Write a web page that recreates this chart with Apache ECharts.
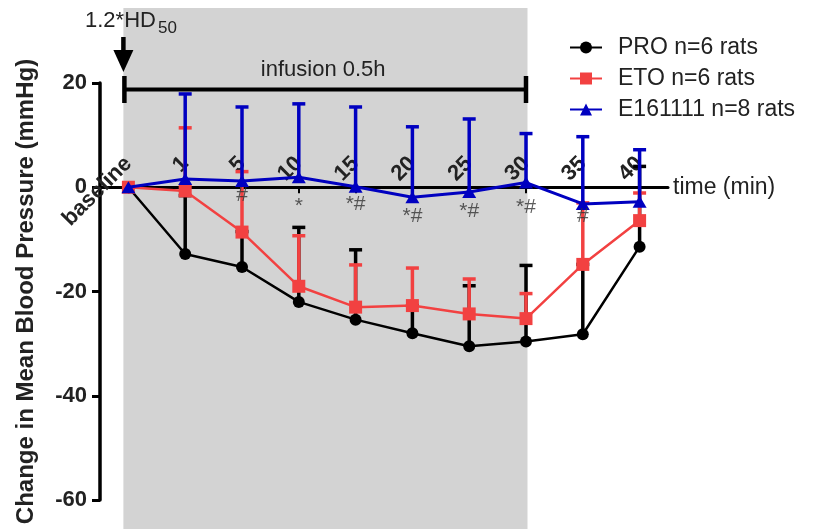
<!DOCTYPE html>
<html><head><meta charset="utf-8">
<script src="https://cdn.jsdelivr.net/npm/echarts@6/dist/echarts.min.js"></script>
<style>html,body{margin:0;padding:0;background:#fff}#c{width:816px;height:529px}</style>
</head><body><div id="c"></div>
<script>
// ---- data ----
const categories = ['baseline','1','5','10','15','20','25','30','35','40'];
const proMean = [0,-12.8,-15.3,-22.0,-25.4,-28.0,-30.5,-29.6,-28.2,-11.4];
const proErr  = [0, 11.2, 6.8, 14.3, 13.4, 5.3, 11.6, 14.6, 13.4, 15.4];
const etoMean = [0,-0.7,-8.6,-19.0,-23.0,-22.7,-24.3,-25.2,-14.8,-6.4];
const etoErr  = [0,12.1,11.6,9.7,8.1,7.2,6.7,4.8,11.8,5.3];
const eMean   = [0,1.6,1.2,1.9,0.1,-1.9,-0.9,0.9,-3.2,-2.8];
const eErr    = [0,16.3,14.2,14.1,15.3,13.5,14.0,9.4,12.9,10.0];
const yTicks  = [-60,-40,-20,0,20];
const sigCats = ['5','10','15','20','25','30','35'];
const sigY    = [-1.6,-3.7,-3.3,-5.5,-4.5,-3.9,-5.6];
const sigText = ['#','*','*#','*#','*#','*#','#'];
const seriesNames = ['PRO n=6 rats','ETO n=6 rats','E161111 n=8 rats'];
const infusionStart = 'baseline', infusionEnd = '30';

const FONT = 'Liberation Sans, Arial, Helvetica, sans-serif';
const BLACK = '#000000', RED = '#F24141', BLUE = '#0000C0';

function errSeries(name, means, errs, color, z) {
  return {
    type: 'custom', name: name, z: z, silent: true,
    data: means.map((m, i) => [i, m, m + errs[i]]),
    encode: { x: 0, y: [1, 2] },
    renderItem: function (params, api) {
      const x = api.value(0);
      const p0 = api.coord([x, api.value(1)]);
      const p1 = api.coord([x, api.value(2)]);
      if (Math.abs(p0[1] - p1[1]) < 0.5) return null;
      const hw = 6.5;
      return { type: 'group', children: [
        { type: 'line', shape: { x1: p0[0], y1: p0[1], x2: p1[0], y2: p1[1] }, style: { stroke: color, lineWidth: 3.5 } },
        { type: 'line', shape: { x1: p1[0] - hw, y1: p1[1], x2: p1[0] + hw, y2: p1[1] }, style: { stroke: color, lineWidth: 3.5 } }
      ]};
    }
  };
}
function lineSeries(name, means, color, symbol, size, width, z) {
  return {
    type: 'line', name: name, z: z, data: means,
    symbol: symbol, symbolSize: size, showSymbol: true,
    itemStyle: { color: color, opacity: 1 },
    lineStyle: { color: color, width: width },
    emphasis: { disabled: true }
  };
}

const GRID = { left: 100, right: 148, top: 83, bottom: 29, containLabel: false };
const chart = echarts.init(document.getElementById('c'), null, { renderer: 'canvas' });
function buildOption(zeroTop) {
  return {
    animation: false,
    textStyle: { fontFamily: FONT },
    grid: [GRID, { left: GRID.left, right: GRID.right, top: zeroTop, height: 60, containLabel: false }],
    legend: {
      data: seriesNames, orient: 'vertical', left: 564, top: 31,
      itemWidth: 32, itemHeight: 15, itemGap: 8,
      textStyle: { fontSize: 23, color: '#222', fontFamily: FONT, padding: [0, 0, 0, 11] }
    },
    xAxis: [
      { type: 'category', data: categories, gridIndex: 0, boundaryGap: true, show: false },
      {
        type: 'category', data: categories, gridIndex: 1, position: 'top', boundaryGap: true,
        axisLine: { onZero: false, lineStyle: { color: '#000', width: 3 } },
        axisTick: { show: true, inside: true, alignWithLabel: true, length: 6, lineStyle: { color: '#000', width: 2 } },
        axisLabel: { interval: 0, rotate: -45, align: 'right', verticalAlign: 'middle', margin: 27,
          fontSize: 22, fontWeight: 'bold', color: '#222', fontFamily: FONT },
        splitLine: { show: false },
        name: 'time (min)', nameLocation: 'end', nameGap: 5,
        nameTextStyle: { fontSize: 23, color: '#222', fontFamily: FONT, verticalAlign: 'middle', align: 'left' }
      }
    ],
    yAxis: [
      {
        type: 'value', gridIndex: 0, min: yTicks[0], max: yTicks[yTicks.length - 1], interval: yTicks[1] - yTicks[0],
        axisLine: { show: true, onZero: false, lineStyle: { color: '#000', width: 3.5 } },
        axisTick: { show: true, length: 8, lineStyle: { color: '#000', width: 3 } },
        splitLine: { show: false },
        axisLabel: { fontSize: 22, fontWeight: 'bold', color: '#222', margin: 13, fontFamily: FONT },
        name: 'Change in Mean Blood Pressure (mmHg)', nameLocation: 'middle', nameGap: 62,
        nameTextStyle: { fontSize: 24, fontWeight: 'bold', color: '#222', fontFamily: FONT }
      },
      { type: 'value', gridIndex: 1, show: false, min: 0, max: 1 }
    ],
    series: [
      errSeries('proErr', proMean, proErr, BLACK, 2),
      lineSeries(seriesNames[0], proMean, BLACK, 'circle', 12, 2.5, 3),
      errSeries('etoErr', etoMean, etoErr, RED, 4),
      lineSeries(seriesNames[1], etoMean, RED, 'rect', 13, 2.5, 5),
      errSeries('eErr', eMean, eErr, BLUE, 6),
      lineSeries(seriesNames[2], eMean, BLUE, 'triangle', [14, 12], 3, 7),
      {
        type: 'scatter', name: 'sig', z: 8, silent: true, symbolSize: 0,
        data: sigCats.map((c, i) => [categories.indexOf(c), sigY[i], sigText[i]]),
        label: { show: true, position: 'inside', formatter: p => p.data[2], fontSize: 21, color: '#333', fontFamily: FONT }
      }
    ]
  };
}
chart.setOption(buildOption(187));
// put the visible time axis exactly on the zero line of the value axis
const y0 = chart.convertToPixel({ xAxisIndex: 0, yAxisIndex: 0 }, [0, 0])[1];
chart.setOption(buildOption(y0));

// ---- annotations layout (shading, arrow, infusion bracket) ----
const px = c => chart.convertToPixel({ xAxisIndex: 0, yAxisIndex: 0 }, [categories.indexOf(c), 0])[0];
const xs = px(infusionStart), xe = px(infusionEnd);
const xa = xs - 5;
chart.setOption({
  graphic: [
    { type: 'rect', z: -10, silent: true, shape: { x: xs - 5, y: 8, width: xe + 1.5 - (xs - 5), height: 529 - 8 }, style: { fill: '#D3D3D3' } },
    { type: 'line', z: 10, shape: { x1: xa, y1: 37, x2: xa, y2: 54 }, style: { stroke: '#000', lineWidth: 4.5 } },
    { type: 'polygon', z: 10, shape: { points: [[xa - 10, 50], [xa + 10, 50], [xa, 72]] }, style: { fill: '#000' } },
    { type: 'line', z: 10, shape: { x1: xs - 4, y1: 89.5, x2: xe, y2: 89.5 }, style: { stroke: '#000', lineWidth: 4 } },
    { type: 'line', z: 10, shape: { x1: xs - 4, y1: 76, x2: xs - 4, y2: 103 }, style: { stroke: '#000', lineWidth: 4.5 } },
    { type: 'line', z: 10, shape: { x1: xe, y1: 76, x2: xe, y2: 103 }, style: { stroke: '#000', lineWidth: 4.5 } },
    { type: 'text', z: 10, x: (xs - 4 + xe) / 2 - 2, y: 70, style: { text: 'infusion 0.5h', fontSize: 22, fontFamily: FONT, fill: '#222', align: 'center', verticalAlign: 'middle' } },
    { type: 'text', z: 10, x: 85, y: 21, style: { text: '1.2*HD', fontSize: 22, fontFamily: FONT, fill: '#222', align: 'left', verticalAlign: 'middle' } },
    { type: 'text', z: 10, x: 158, y: 28, style: { text: '50', fontSize: 17, fontFamily: FONT, fill: '#222', align: 'left', verticalAlign: 'middle' } }
  ]
});
</script>
</body></html>
